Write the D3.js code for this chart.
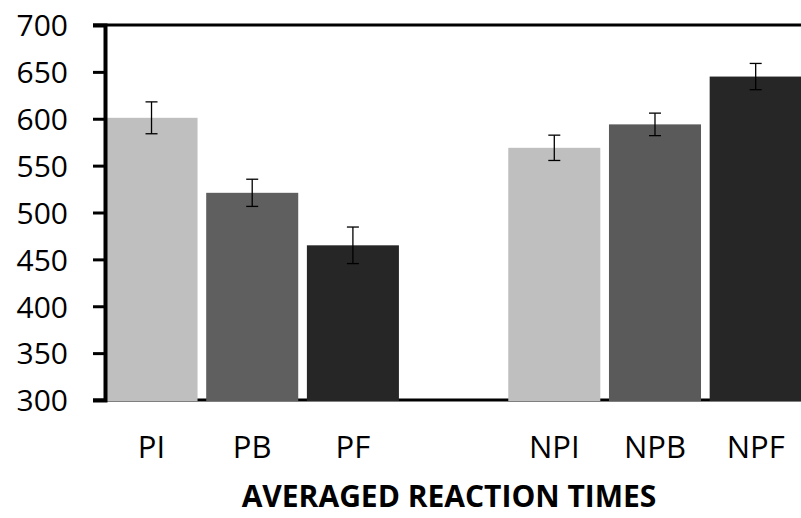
<!DOCTYPE html>
<html>
<head>
<meta charset="utf-8">
<script src="https://cdn.jsdelivr.net/npm/d3@7"></script>
<style>
  body { margin: 0; background: #fff; }
  svg { display: block; }
</style>
</head>
<body>
<svg width="801" height="518"></svg>
<script>
// values
const categories = ["PI", "PB", "PF", "", "NPI", "NPB", "NPF"];
const means = [601, 521, 465, null, 569, 594, 645];
const errors = [17, 14.5, 19.5, null, 13.5, 12, 14];
const barColors = ["#bfbfbf", "#5f5f5f", "#262626", null, "#bfbfbf", "#5a5a5a", "#262626"];
const yTicks = [300, 350, 400, 450, 500, 550, 600, 650, 700];
const title = "AVERAGED REACTION TIMES";

const rows = categories.map((c, i) => ({ key: i, label: c, mean: means[i], err: errors[i], color: barColors[i] }));

const svg = d3.select("svg");
const font = "'Open Sans', 'Liberation Sans', sans-serif";

const x = d3.scaleBand()
    .domain(rows.map(d => d.key))
    .range([105.5, 801.7])
    .paddingInner(0.086)
    .paddingOuter(0);

const y = d3.scaleLinear([300, 700], [400, 25]);

// top border line
svg.append("line")
    .attr("x1", 93).attr("x2", 801)
    .attr("y1", y(700)).attr("y2", y(700))
    .attr("stroke", "#000").attr("stroke-width", 3);

// x axis baseline
svg.append("line")
    .attr("x1", 93).attr("x2", 801)
    .attr("y1", y(300)).attr("y2", y(300))
    .attr("stroke", "#000").attr("stroke-width", 3);

// bars
const bars = rows.filter(d => d.mean != null);
svg.selectAll("rect.bar")
    .data(bars)
    .enter()
    .append("rect")
    .attr("class", "bar")
    .attr("x", d => x(d.key))
    .attr("width", x.bandwidth())
    .attr("y", d => y(d.mean))
    .attr("height", d => y(300) - y(d.mean) + 1)
    .attr("fill", d => d.color);

// error bars
const eb = svg.selectAll("g.err")
    .data(bars)
    .enter()
    .append("g")
    .attr("class", "err")
    .attr("stroke", "#000")
    .attr("stroke-width", 1.3);
eb.append("line")
    .attr("x1", d => x(d.key) + x.bandwidth() / 2)
    .attr("x2", d => x(d.key) + x.bandwidth() / 2)
    .attr("y1", d => y(d.mean + d.err))
    .attr("y2", d => y(d.mean - d.err));
eb.selectAll("line.cap")
    .data(d => [d.mean + d.err, d.mean - d.err].map(v => ({ d, v })))
    .enter()
    .append("line")
    .attr("class", "cap")
    .attr("x1", c => x(c.d.key) + x.bandwidth() / 2 - 6)
    .attr("x2", c => x(c.d.key) + x.bandwidth() / 2 + 6)
    .attr("y1", c => y(c.v))
    .attr("y2", c => y(c.v));

// y axis
const yAxis = svg.append("g")
    .attr("transform", "translate(105,0)")
    .call(d3.axisLeft(y).tickValues(yTicks).tickSize(12).tickPadding(25).tickFormat(d3.format("d")));
yAxis.select(".domain").attr("stroke", "#000").attr("stroke-width", 4);
yAxis.selectAll(".tick line").attr("stroke", "#000").attr("stroke-width", 3);
yAxis.selectAll(".tick text")
    .attr("fill", "#000")
    .attr("font-family", font)
    .attr("font-size", 30)
    .attr("dy", "0.36em");

// category labels
svg.selectAll("text.cat")
    .data(rows)
    .enter()
    .append("text")
    .attr("class", "cat")
    .attr("x", d => x(d.key) + x.bandwidth() / 2)
    .attr("y", 458)
    .attr("text-anchor", "middle")
    .attr("font-family", font)
    .attr("font-size", 31)
    .attr("fill", "#000")
    .text(d => d.label);

// axis title
svg.append("text")
    .attr("x", 449)
    .attr("y", 507)
    .attr("text-anchor", "middle")
    .attr("font-family", font)
    .attr("font-weight", "bold")
    .attr("font-size", 30)
    .attr("fill", "#000")
    .text(title);
</script>
</body>
</html>
